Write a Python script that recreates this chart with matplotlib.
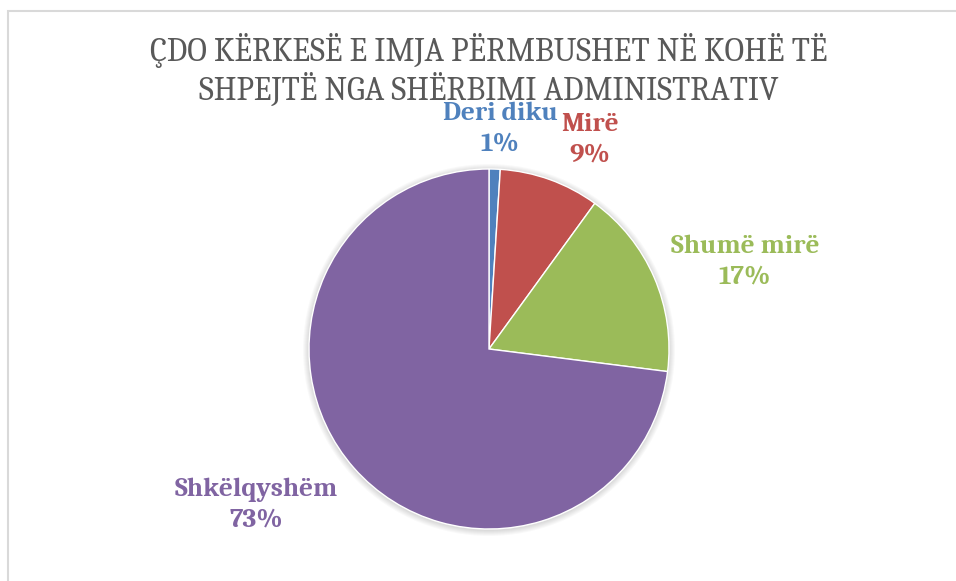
import matplotlib
matplotlib.use('Agg')
import matplotlib.pyplot as plt
from matplotlib.patches import Circle, Rectangle

categories = ['Deri diku', 'Mirë', 'Shumë mirë', 'Shkëlqyshëm']
values = [1, 9, 17, 73]
colors = ['#4F81BD', '#C0504D', '#9BBB59', '#8064A2']
title = 'ÇDO KËRKESË E IMJA PËRMBUSHET NË KOHË TË\nSHPEJTË NGA SHËRBIMI ADMINISTRATIV'

# label anchor points (pixels from top-left)
label_pos = [(500, 129), (590, 140), (745, 262), (256, 505)]

W, H = 956, 581
fig = plt.figure(figsize=(W / 100, H / 100), dpi=100)
ax = fig.add_axes([0, 0, 1, 1])

# chart area border
ax.add_patch(Rectangle((8.5, -10), W + 20, H - 11 + 10, fill=False,
                       edgecolor='#d9d9d9', linewidth=1.5))

cx, cy, r = 489, H - 349, 180

# soft shadow
for k in range(6):
    ax.add_patch(Circle((cx, cy - 1), r + 1 + k, color='black', alpha=0.025, lw=0))

ax.pie(values, colors=colors, startangle=90, counterclock=False,
       center=(cx, cy), radius=r, frame=True,
       wedgeprops=dict(edgecolor='white', linewidth=1))
ax.set_xlim(0, W)
ax.set_ylim(0, H)
ax.set_aspect('equal')
ax.axis('off')

ax.text(489, H - 70, title, ha='center', va='center', fontsize=23.5,
        family='Caladea', color='#595959', linespacing=1.2)

for cat, v, c, (x, y) in zip(categories, values, colors, label_pos):
    ax.text(x, H - y, '%s\n%d%%' % (cat, v), ha='center', va='center',
            fontsize=19.5, fontweight='bold', family='Caladea', color=c,
            linespacing=1.3)

fig.savefig('out.png', dpi=100)
